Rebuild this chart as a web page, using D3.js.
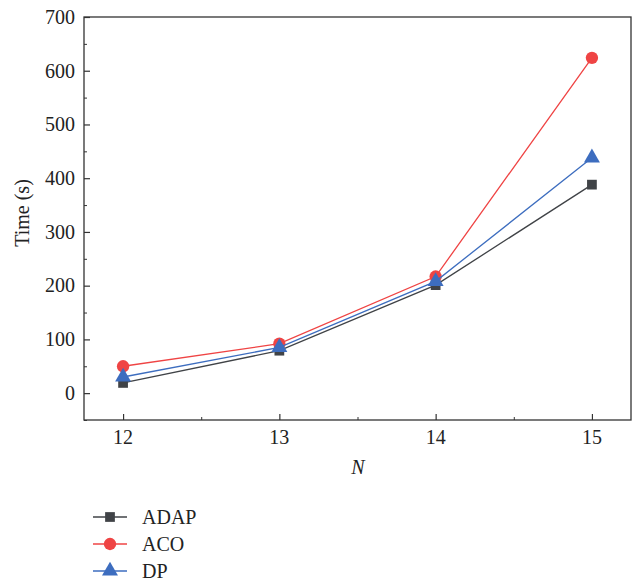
<!DOCTYPE html>
<html>
<head>
<meta charset="utf-8">
<script src="https://cdn.jsdelivr.net/npm/d3@7"></script>
<style>
body { margin: 0; background: #fff; }
text { font-family: "Liberation Serif", "DejaVu Serif", serif; fill: #222; }
</style>
</head>
<body>
<svg width="635" height="582"></svg>
<script>
var nValues = [12, 13, 14, 15];
var adap = [19, 79, 201, 388];
var aco = [50, 92, 217, 624];
var dp = [30, 85, 208, 438];
var seriesNames = ["ADAP", "ACO", "DP"];
var seriesColors = ["#404347", "#ef4444", "#3d6dbf"];
var seriesShapes = [d3.symbolSquare, d3.symbolCircle, d3.symbolTriangle];
var seriesValues = [adap, aco, dp];
var yTicks = [0, 100, 200, 300, 400, 500, 600, 700];

var svg = d3.select("svg");
var plotLeft = 84, plotRight = 631, plotTop = 17, plotBottom = 420;

var x = d3.scaleLinear().domain([11.75, 15.25]).range([plotLeft, plotRight]);
var y = d3.scaleLinear().domain([-50, 700]).range([plotBottom, plotTop]);

// frame
svg.append("rect")
  .attr("x", plotLeft).attr("y", plotTop)
  .attr("width", plotRight - plotLeft).attr("height", plotBottom - plotTop)
  .attr("fill", "none").attr("stroke", "#333").attr("stroke-width", 1.3);

// y axis, ticks inward
var yAxis = svg.append("g").attr("transform", "translate(" + plotLeft + ",0)")
  .call(d3.axisRight(y).tickValues(yTicks).tickSize(6).tickFormat(""));
yAxis.select(".domain").remove();
yAxis.selectAll("line").attr("stroke", "#333").attr("stroke-width", 1.2);
svg.append("g").attr("transform", "translate(" + plotLeft + ",0)")
  .call(d3.axisRight(y).tickValues([-50, 50, 150, 250, 350, 450, 550, 650]).tickSize(3).tickFormat(""))
  .call(function(g) { g.select(".domain").remove(); g.selectAll("line").attr("stroke", "#333"); });
svg.append("g").selectAll("text").data(yTicks).enter().append("text")
  .attr("x", plotLeft - 9).attr("y", function(d) { return y(d); })
  .attr("dy", "0.34em").attr("text-anchor", "end")
  .style("font-size", "20px").text(function(d) { return d; });

// x axis, ticks inward
var xAxis = svg.append("g").attr("transform", "translate(0," + plotBottom + ")")
  .call(d3.axisTop(x).tickValues(nValues).tickSize(6).tickFormat(""));
xAxis.select(".domain").remove();
xAxis.selectAll("line").attr("stroke", "#333").attr("stroke-width", 1.2);
svg.append("g").attr("transform", "translate(0," + plotBottom + ")")
  .call(d3.axisTop(x).tickValues([12.5, 13.5, 14.5]).tickSize(3).tickFormat(""))
  .call(function(g) { g.select(".domain").remove(); g.selectAll("line").attr("stroke", "#333"); });
svg.append("g").selectAll("text").data(nValues).enter().append("text")
  .attr("x", function(d) { return x(d); }).attr("y", plotBottom + 24)
  .attr("text-anchor", "middle")
  .style("font-size", "20px").text(function(d) { return d; });

// axis titles
svg.append("text")
  .attr("transform", "translate(29,213) rotate(-90)")
  .attr("text-anchor", "middle").style("font-size", "20px").text("Time (s)");
svg.append("text")
  .attr("x", 358).attr("y", 474).attr("text-anchor", "middle")
  .style("font-size", "20px").style("font-style", "italic").text("N");

// series
var line = d3.line().x(function(d, i) { return x(nValues[i]); }).y(function(d) { return y(d); });
var markerSizes = [95, 120, 110];

seriesValues.forEach(function(vals, k) {
  svg.append("path").datum(vals)
    .attr("d", line).attr("fill", "none")
    .attr("stroke", seriesColors[k]).attr("stroke-width", 1.3);
  svg.append("g").selectAll("path").data(vals).enter().append("path")
    .attr("transform", function(d, i) { return "translate(" + x(nValues[i]) + "," + y(d) + ")"; })
    .attr("d", d3.symbol().type(seriesShapes[k]).size(markerSizes[k]))
    .attr("fill", seriesColors[k]);
});

// legend
var legend = svg.append("g");
seriesNames.forEach(function(name, k) {
  var ly = 517 + k * 27;
  legend.append("line").attr("x1", 93).attr("x2", 127).attr("y1", ly).attr("y2", ly)
    .attr("stroke", seriesColors[k]).attr("stroke-width", 1.3);
  legend.append("path").attr("transform", "translate(110," + ly + ")")
    .attr("d", d3.symbol().type(seriesShapes[k]).size(markerSizes[k]))
    .attr("fill", seriesColors[k]);
  legend.append("text").attr("x", 142).attr("y", ly).attr("dy", "0.34em")
    .style("font-size", "20px").text(name);
});
</script>
</body>
</html>
